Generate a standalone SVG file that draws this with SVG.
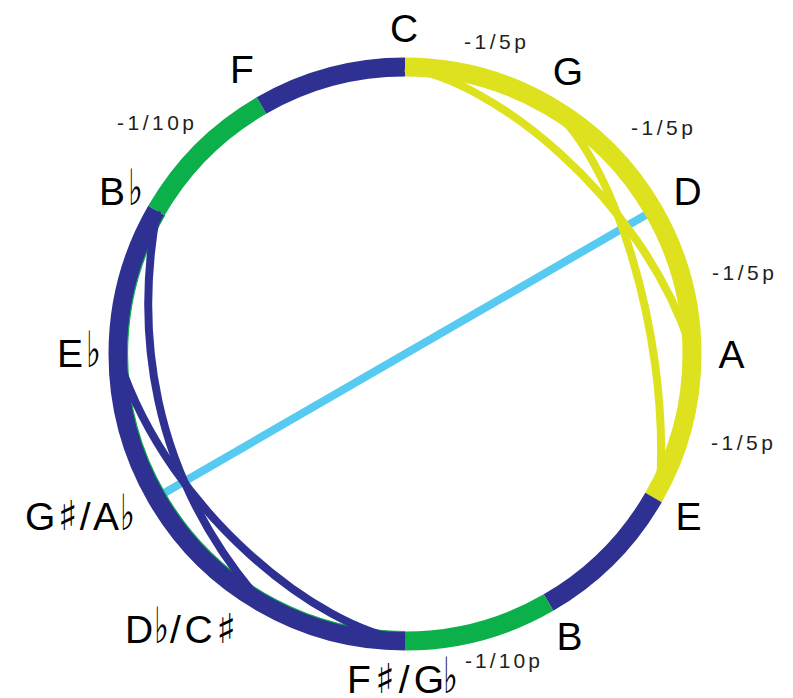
<svg xmlns="http://www.w3.org/2000/svg" width="793" height="698" viewBox="0 0 793 698">
<style>
  .big{font-family:'Liberation Sans','DejaVu Sans',sans-serif;font-size:39px;fill:#000}
  .fl{font-family:'DejaVu Sans',sans-serif;font-size:50px;fill:#000}
  .sh{font-family:'DejaVu Sans',sans-serif;font-size:41px}
  .small{font-family:'Liberation Sans','DejaVu Sans',sans-serif;font-size:21px;fill:#231f20}
  .ring{fill:none;stroke-width:19;stroke-linecap:butt}
  .thin{fill:none;stroke-width:8;stroke-linecap:butt}
  .y{stroke:#dee21e}
  .b{stroke:#2e3192}
  .g{stroke:#0bb04b}
</style>
<rect width="793" height="698" fill="#fff"/>
<g id="connectors">
  <line x1="653.5" y1="210.5" x2="156.5" y2="497.5" stroke="#56caf0" stroke-width="8"/>
  <path class="ring y" d="M405,67 A287,287 0 0 1 653.55,497.5"/>
  <path class="ring b" d="M653.55,497.5 A287,287 0 0 1 548.5,602.55"/>
  <path class="ring g" d="M548.5,602.55 A287,287 0 0 1 405,641"/>
  <path class="ring b" d="M405,641 A287,287 0 0 1 156.45,210.5"/>
  <path class="ring g" d="M156.45,210.5 A287,287 0 0 1 261.5,105.45"/>
  <path class="ring b" d="M261.5,105.45 A287,287 0 0 1 405,67"/>
  <path d="M405,631.5 A277.5,277.5 0 0 1 164.7,215.25" fill="none" stroke="#0bb04b" stroke-width="1.2"/>
  <path class="thin y" d="M405,68 C490,78 640,195 690,345"/>
  <path class="thin y" d="M548,106 C610,150 670,330 660,485"/>
  <path class="thin b" d="M157,211 C135,330 150,470 255,595"/>
  <path class="thin b" d="M120,363 C170,513 320,630 405,640"/>
  <text class="small" x="464" y="49" textLength="62" lengthAdjust="spacing">-1/5p</text>
  <text class="small" x="631" y="135" textLength="62" lengthAdjust="spacing">-1/5p</text>
  <text class="small" x="712" y="280" textLength="62" lengthAdjust="spacing">-1/5p</text>
  <text class="small" x="711" y="450" textLength="62" lengthAdjust="spacing">-1/5p</text>
  <text class="small" x="117" y="130" textLength="77" lengthAdjust="spacing">-1/10p</text>
  <text class="small" x="465" y="668" textLength="75" lengthAdjust="spacing">-1/10p</text>
</g>
<g id="node-C"><text class="big" x="404" y="42" text-anchor="middle">C</text></g>
<g id="node-G"><text class="big" x="568" y="85" text-anchor="middle">G</text></g>
<g id="node-D"><text class="big" x="687.5" y="205" text-anchor="middle">D</text></g>
<g id="node-A"><text class="big" x="731.5" y="368" text-anchor="middle">A</text></g>
<g id="node-E"><text class="big" x="688.5" y="530" text-anchor="middle">E</text></g>
<g id="node-B"><text class="big" x="569.5" y="650" text-anchor="middle">B</text></g>
<g id="node-Fsharp">
  <text class="big" x="347" y="693" textLength="97" lengthAdjust="spacing">F<tspan class="sh">♯</tspan>/G</text>
  <text class="fl" transform="translate(443,693) scale(0.62,1)">♭</text>
</g>
<g id="node-Dflat">
  <text class="big" x="125" y="643">D</text>
  <text class="fl" transform="translate(154,643) scale(0.62,1)">♭</text>
  <text class="big" x="170" y="643" textLength="66" lengthAdjust="spacing">/C<tspan class="sh">♯</tspan></text>
</g>
<g id="node-Gsharp">
  <text class="big" x="25" y="530" textLength="94" lengthAdjust="spacing">G<tspan class="sh">♯</tspan>/A</text>
  <text class="fl" transform="translate(120,530) scale(0.62,1)">♭</text>
</g>
<g id="node-Eflat">
  <text class="big" x="57" y="367">E</text>
  <text class="fl" transform="translate(86,367) scale(0.62,1)">♭</text>
</g>
<g id="node-Bflat">
  <text class="big" x="99" y="205">B</text>
  <text class="fl" transform="translate(128,205) scale(0.62,1)">♭</text>
</g>
<g id="node-F"><text class="big" x="242" y="83" text-anchor="middle">F</text></g>
</svg>
